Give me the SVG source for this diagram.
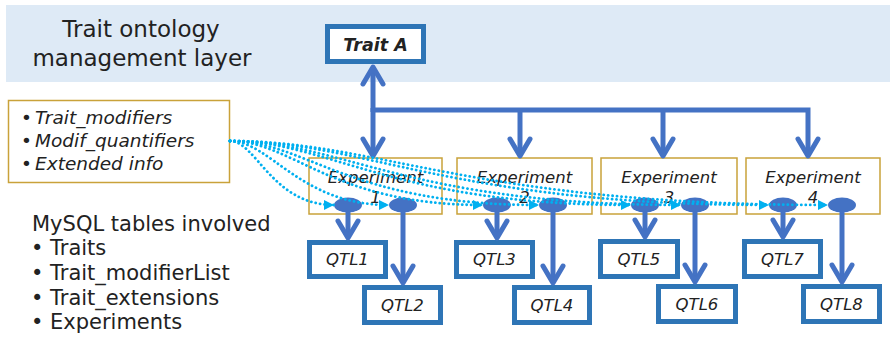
<svg xmlns="http://www.w3.org/2000/svg" width="890" height="337" viewBox="0 0 890 337">
<defs>
<style>
.band{fill:#DEEAF6}
.gold{fill:#fff;stroke:#C9A23A;stroke-width:1.5}
.qbox{fill:#fff;stroke:#2E75B6;stroke-width:5}
.t{font-family:"DejaVu Sans",Verdana,sans-serif;fill:#222}
.it{font-style:italic}
.exp{font-size:16.5px;text-anchor:middle;font-style:italic}
.qtl{font-size:16.5px;text-anchor:middle;font-style:italic}
.arrow{fill:none;stroke:#4472C4;stroke-width:5;marker-end:url(#chev)}
.dot{fill:none;stroke:#00B0F0;stroke-width:2.8;stroke-linecap:round;stroke-dasharray:0.1 4.4;marker-end:url(#tri)}
.ell{fill:#4472C4}
</style>
<marker id="chev" markerUnits="userSpaceOnUse" viewBox="-22 -14 26 28" markerWidth="26" markerHeight="28" refX="0" refY="0" orient="auto">
<path d="M-17,-10 L0,0 L-17,10" fill="none" stroke="#4472C4" stroke-width="5" stroke-linecap="round" stroke-linejoin="round"/>
</marker>
<marker id="tri" markerUnits="userSpaceOnUse" viewBox="0 0 10 10" markerWidth="10" markerHeight="10" refX="10" refY="5" orient="auto">
<path d="M0,0 L10,5 L0,10 z" fill="#00B0F0"/>
</marker>
</defs>

<rect class="band" x="6" y="5" width="884" height="77"/>

<g id="layer-title">
<text class="t" font-size="23" text-anchor="middle" fill="#333"><tspan x="141" y="37">Trait ontology</tspan><tspan x="142" y="66">management layer</tspan></text>
</g>

<g id="trait-a">
<rect class="qbox" x="327.5" y="26.5" width="96" height="35"/>
<text class="t it" x="375.5" y="50.5" font-size="17.5" font-weight="bold" text-anchor="middle">Trait A</text>
</g>

<g id="modifiers">
<rect class="gold" x="8.5" y="100.5" width="221" height="82"/>
<text class="t" font-size="18.5"><tspan x="21" y="124">•</tspan><tspan x="35" y="124" font-style="italic">Trait_modifiers</tspan><tspan x="21" y="147">•</tspan><tspan x="35" y="147" font-style="italic">Modif_quantifiers</tspan><tspan x="21" y="170">•</tspan><tspan x="35" y="170" font-style="italic">Extended info</tspan></text>
</g>

<g id="mysql">
<text class="t" font-size="21"><tspan x="32" y="231">MySQL tables involved</tspan><tspan x="31" y="255">•</tspan><tspan x="50" y="255">Traits</tspan><tspan x="31" y="280">•</tspan><tspan x="50" y="280">Trait_modifierList</tspan><tspan x="31" y="305">•</tspan><tspan x="50" y="305">Trait_extensions</tspan><tspan x="31" y="329">•</tspan><tspan x="50" y="329">Experiments</tspan></text>
</g>

<g id="experiment1">
<rect class="gold" x="309" y="158" width="133" height="56"/>
<text class="t exp" x="375.5" y="183">Experiment</text>
<text class="t exp" x="375.5" y="203">1</text>
<ellipse class="ell" cx="348" cy="205" rx="14" ry="7.5"/>
<ellipse class="ell" cx="403" cy="205" rx="14" ry="7.5"/>
</g>
<g id="experiment2">
<rect class="gold" x="457" y="158" width="135" height="56"/>
<text class="t exp" x="524.5" y="183">Experiment</text>
<text class="t exp" x="524.5" y="203">2</text>
<ellipse class="ell" cx="497" cy="205" rx="14" ry="7.5"/>
<ellipse class="ell" cx="553" cy="205" rx="14" ry="7.5"/>
</g>
<g id="experiment3">
<rect class="gold" x="601" y="158" width="136" height="56"/>
<text class="t exp" x="669" y="183">Experiment</text>
<text class="t exp" x="669" y="203">3</text>
<ellipse class="ell" cx="645" cy="205" rx="14" ry="7.5"/>
<ellipse class="ell" cx="695" cy="205" rx="14" ry="7.5"/>
</g>
<g id="experiment4">
<rect class="gold" x="746" y="158" width="134" height="56"/>
<text class="t exp" x="813" y="183">Experiment</text>
<text class="t exp" x="813" y="203">4</text>
<ellipse class="ell" cx="783" cy="205" rx="14" ry="7.5"/>
<ellipse class="ell" cx="842" cy="205" rx="14" ry="7.5"/>
</g>

<g id="qtl1"><rect class="qbox" x="309.5" y="242.5" width="76" height="34"/><text class="t qtl" x="347.5" y="265">QTL1</text></g>
<g id="qtl2"><rect class="qbox" x="364.5" y="287.5" width="76" height="35"/><text class="t qtl" x="402.5" y="311">QTL2</text></g>
<g id="qtl3"><rect class="qbox" x="456.5" y="242.5" width="76" height="34"/><text class="t qtl" x="494.5" y="265">QTL3</text></g>
<g id="qtl4"><rect class="qbox" x="514.5" y="287.5" width="75" height="35"/><text class="t qtl" x="552" y="311">QTL4</text></g>
<g id="qtl5"><rect class="qbox" x="600.5" y="241.5" width="77" height="35"/><text class="t qtl" x="639" y="265">QTL5</text></g>
<g id="qtl6"><rect class="qbox" x="658.5" y="286.5" width="77" height="35"/><text class="t qtl" x="697" y="310">QTL6</text></g>
<g id="qtl7"><rect class="qbox" x="744.5" y="241.5" width="76" height="35"/><text class="t qtl" x="782.5" y="265">QTL7</text></g>
<g id="qtl8"><rect class="qbox" x="803.5" y="286.5" width="76" height="35"/><text class="t qtl" x="841.5" y="310">QTL8</text></g>

<g id="connectors">
<path class="arrow" d="M373,112 V67"/>
<path class="arrow" d="M373,108 V156"/>
<path class="arrow" d="M520,110 V156"/>
<path class="arrow" d="M663,110 V156"/>
<path class="arrow" d="M373,110 H808 V156"/>
<path class="arrow" d="M348,212 V238"/>
<path class="arrow" d="M403,212 V283"/>
<path class="arrow" d="M497,212 V238"/>
<path class="arrow" d="M553,212 V283"/>
<path class="arrow" d="M645,212 V237"/>
<path class="arrow" d="M695,212 V282"/>
<path class="arrow" d="M783,212 V237"/>
<path class="arrow" d="M842,212 V282"/>
<path class="dot" d="M230,141 C256,141 272,205 334,205"/>
<path class="dot" d="M230,141 C270,141 300,205 389,205"/>
<path class="dot" d="M230,141 C293,141 331,205 483,205"/>
<path class="dot" d="M230,141 C307,141 347,205 539,205"/>
<path class="dot" d="M230,141 C330,141 390,205 631,205"/>
<path class="dot" d="M230,141 C343,141 405,205 681,205"/>
<path class="dot" d="M230,141 C365,141 450,205 769,205"/>
<path class="dot" d="M230,141 C380,141 470,205 828,205"/>
</g>
</svg>
